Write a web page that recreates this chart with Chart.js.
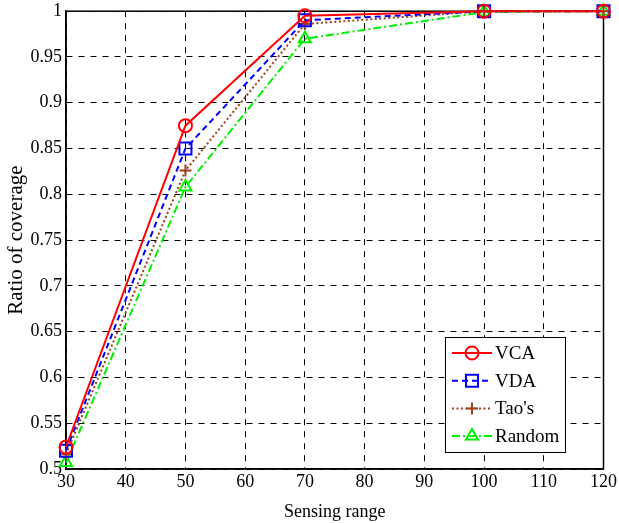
<!DOCTYPE html>
<html><head><meta charset="utf-8">
<script src="https://cdn.jsdelivr.net/npm/chart.js@4"></script>
<style>html,body{margin:0;padding:0;background:#fff}#wrap{width:619px;height:523px}</style>
</head><body><div id="wrap"><canvas id="c" width="619" height="523"></canvas></div>
<script>
const sensingRange = [30, 50, 70, 100, 120];
const vca = [0.524, 0.875, 0.995, 1.0, 1.0];
const vda = [0.520, 0.850, 0.990, 1.0, 1.0];
const taos = [0.516, 0.826, 0.986, 1.0, 1.0];
const random = [0.507, 0.808, 0.970, 0.999, 1.0];
const seriesNames = ["VCA", "VDA", "Tao's", "Random"];
const xTicks = [30, 40, 50, 60, 70, 80, 90, 100, 110, 120];
const yTicks = [0.5, 0.55, 0.6, 0.65, 0.7, 0.75, 0.8, 0.85, 0.9, 0.95, 1];

const FONT = "'Liberation Serif', 'Times New Roman', serif";
const styles = [
  {color: '#ff0000', dash: [], point: 'circle', r: 6.5},
  {color: '#0000ff', dash: [6, 4], point: 'rect', r: 8.5},
  {color: '#a0401a', dash: [2, 2.5], point: 'cross', r: 6},
  {color: '#00ee00', dash: [8, 3, 2, 3], point: 'triangle', r: 7}
];
const allData = [vca, vda, taos, random];
const datasets = allData.map((arr, i) => ({
  label: seriesNames[i],
  data: sensingRange.map((x, j) => ({x, y: arr[j]})),
  borderColor: styles[i].color,
  backgroundColor: 'rgba(0,0,0,0)',
  borderWidth: 2,
  borderDash: styles[i].dash,
  pointStyle: styles[i].point,
  pointRadius: styles[i].r,
  pointBorderWidth: 2,
  pointBorderColor: styles[i].color,
  pointBackgroundColor: 'rgba(0,0,0,0)',
  tension: 0,
  clip: false
}));

const framePlugin = {
  id: 'frame',
  beforeDatasetsDraw(chart) {
    const {ctx, chartArea: a} = chart;
    ctx.save();
    ctx.strokeStyle = '#000';
    ctx.lineWidth = 1.5;
    ctx.setLineDash([]);
    ctx.strokeRect(a.left, a.top, a.right - a.left, a.bottom - a.top);
    ctx.restore();
  },
  afterDraw(chart) {
    const {ctx} = chart;
    ctx.save();
    const lx = 445, ly = 337, lw = 120, lh = 115;
    ctx.fillStyle = '#fff';
    ctx.fillRect(lx, ly, lw, lh);
    ctx.lineWidth = 1;
    ctx.strokeStyle = '#000';
    ctx.strokeRect(lx + 0.5, ly + 0.5, lw, lh);
    ctx.font = '19px ' + FONT;
    ctx.textBaseline = 'middle';
    ctx.textAlign = 'left';
    seriesNames.forEach((name, i) => {
      const y = 353 + i * 27.7;
      const s = styles[i];
      ctx.strokeStyle = s.color;
      ctx.lineWidth = 2;
      ctx.setLineDash(s.dash);
      ctx.beginPath(); ctx.moveTo(452, y); ctx.lineTo(492, y); ctx.stroke();
      ctx.setLineDash([]);
      ctx.fillStyle = 'rgba(0,0,0,0)';
      ctx.strokeStyle = s.color;
      Chart.helpers.drawPoint(ctx, {pointStyle: s.point, radius: s.r, borderWidth: 2}, 472, y);
      ctx.fillStyle = '#000';
      ctx.fillText(name, 495, y + 1);
    });
    ctx.restore();
  }
};

new Chart(document.getElementById('c'), {
  type: 'line',
  data: {datasets},
  options: {
    responsive: false,
    animation: false,
    devicePixelRatio: 1,
    layout: {padding: {top: 0, right: 12, left: 0, bottom: 0}},
    plugins: {legend: {display: false}, tooltip: {enabled: false}},
    scales: {
      x: {
        type: 'linear', min: 30, max: 120,
        afterBuildTicks: s => { s.ticks = xTicks.map(v => ({value: v})); },
        ticks: {color: '#000', font: {family: FONT, size: 18}, padding: 2, maxRotation: 0},
        grid: {color: '#000', lineWidth: 1, drawTicks: false},
        border: {display: true, color: '#000', width: 1.5, dash: [6, 6]},
        title: {display: true, text: 'Sensing range', color: '#000', font: {family: FONT, size: 18}, padding: {top: 8, bottom: 0}},
        afterFit: s => { s.height = 54; }
      },
      y: {
        type: 'linear', min: 0.5, max: 1,
        afterBuildTicks: s => { s.ticks = yTicks.map(v => ({value: v})); },
        ticks: {color: '#000', font: {family: FONT, size: 18, lineHeight: 0.8}, padding: 4,
          callback: v => String(Number(v.toFixed(2)))},
        grid: {color: '#000', lineWidth: 1, drawTicks: false},
        border: {display: true, color: '#000', width: 1.5, dash: [6, 6]},
        title: {display: true, text: 'Ratio of coverage', color: '#000', font: {family: FONT, size: 21}, padding: {top: 4, bottom: 6}},
        afterFit: s => { s.width = 66; }
      }
    }
  },
  plugins: [framePlugin]
});
</script>
</body></html>
